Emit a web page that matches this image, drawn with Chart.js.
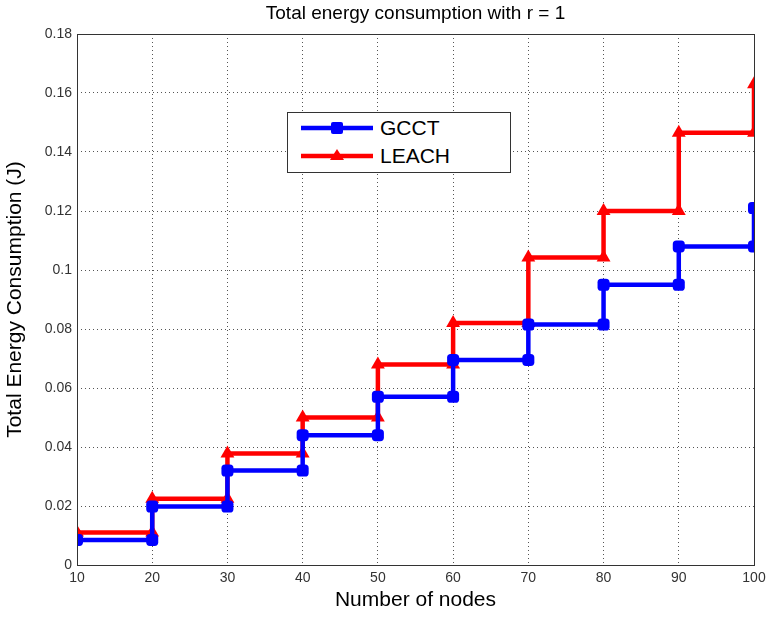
<!DOCTYPE html>
<html>
<head>
<meta charset="utf-8">
<script src="https://cdn.jsdelivr.net/npm/chart.js@4/dist/chart.umd.min.js"></script>
<style>
    body { margin: 0; background: #fff; }
    .wrap { position: relative; width: 767px; height: 617px; }
    .legend {
        position: absolute; left: 287px; top: 112px; width: 224px; height: 61px;
        border: 1px solid #333; background: #fff; box-sizing: border-box;
        font-family: "Liberation Sans", Arial, sans-serif; font-size: 21px; color: #000;
    }
    .legend .row { position: absolute; left: 13px; height: 24px; display: flex; align-items: center; }
    .legend svg { margin-right: 7px; }
</style>
</head>
<body>
<div class="wrap">
    <canvas id="stepChart" width="767" height="617"></canvas>
    <div class="legend">
        <div class="row" style="top: 3px;">
            <svg width="72" height="16"><line x1="0" y1="8" x2="72" y2="8" stroke="#0000ff" stroke-width="4.5"/><rect x="30" y="2" width="12" height="12" rx="2" fill="#0000ff"/></svg>GCCT
        </div>
        <div class="row" style="top: 31px;">
            <svg width="72" height="16"><line x1="0" y1="8" x2="72" y2="8" stroke="#ff0000" stroke-width="4.5"/><polygon points="36,1 43,12 29,12" fill="#ff0000"/></svg>LEACH
        </div>
    </div>
</div>
<script>
// Data
const nodes = [10, 20, 30, 40, 50, 60, 70, 80, 90, 100];
const gcct = [0.0085, 0.0198, 0.032, 0.044, 0.057, 0.0695, 0.0815, 0.095, 0.108, 0.121];
const leach = [0.011, 0.0225, 0.0378, 0.050, 0.068, 0.082, 0.1042, 0.120, 0.1465, 0.163];

// staircase: hold each value until the next node count, marker at both corners
function toSteps(xs, ys) {
    const pts = [{ x: xs[0], y: ys[0] }];
    for (let i = 1; i < xs.length; i++) {
        pts.push({ x: xs[i], y: ys[i - 1] });
        pts.push({ x: xs[i], y: ys[i] });
    }
    return pts;
}

const font = "'Liberation Sans', Arial, sans-serif";

// box around the plot + title centred over it
const frame = {
    id: 'frame',
    afterDraw(chart) {
        const { ctx, chartArea: a } = chart;
        ctx.save();
        ctx.strokeStyle = '#333';
        ctx.lineWidth = 1;
        ctx.strokeRect(Math.round(a.left) + 0.5, Math.round(a.top) + 0.5, Math.round(a.right - a.left), Math.round(a.bottom - a.top));
        ctx.fillStyle = '#000';
        ctx.font = '19px ' + font;
        ctx.textAlign = 'center';
        ctx.textBaseline = 'middle';
        ctx.fillText('Total energy consumption with r = 1', (a.left + a.right) / 2, 14);
        ctx.restore();
    }
};

const ctx = document.getElementById('stepChart').getContext('2d');
const stepChart = new Chart(ctx, {
    type: 'line',
    data: {
        datasets: [{
            label: 'GCCT',
            data: toSteps(nodes, gcct),
            borderColor: '#0000ff',
            backgroundColor: '#0000ff',
            borderWidth: 4.5,
            pointStyle: 'rectRounded',
            pointRadius: 7,
            pointBorderWidth: 0,
            fill: false
        }, {
            label: 'LEACH',
            data: toSteps(nodes, leach),
            borderColor: '#ff0000',
            backgroundColor: '#ff0000',
            borderWidth: 4.5,
            pointStyle: 'triangle',
            pointRadius: 8,
            pointBorderWidth: 0,
            fill: false
        }]
    },
    options: {
        responsive: false,
        animation: false,
        layout: { padding: { top: 34, right: 13 } },
        plugins: {
            legend: { display: false },
            tooltip: { enabled: false }
        },
        scales: {
            x: {
                type: 'linear',
                min: 10,
                max: 100,
                afterFit: (s) => { s.height = 52; s.paddingRight = 0; s.paddingLeft = 0; },
                ticks: { stepSize: 10, color: '#333', font: { family: font, size: 14 }, padding: 5 },
                grid: { color: '#555', drawTicks: false },
                border: { display: false, dash: [1, 3] },
                title: { display: true, text: 'Number of nodes', color: '#000', font: { family: font, size: 21 }, padding: { top: 2 } }
            },
            y: {
                min: 0,
                max: 0.18,
                afterFit: (s) => { s.width = 77; s.paddingTop = 0; s.paddingBottom = 0; },
                ticks: {
                    stepSize: 0.02,
                    color: '#333',
                    font: { family: font, size: 14 },
                    padding: 5,
                    callback: (v) => String(parseFloat(v.toFixed(2)))
                },
                grid: { color: '#555', drawTicks: false },
                border: { display: false, dash: [1, 3] },
                title: { display: true, text: 'Total Energy Consumption (J)', color: '#000', font: { family: font, size: 21 }, padding: { top: 3 } }
            }
        }
    },
    plugins: [frame]
});
</script>
</body>
</html>
